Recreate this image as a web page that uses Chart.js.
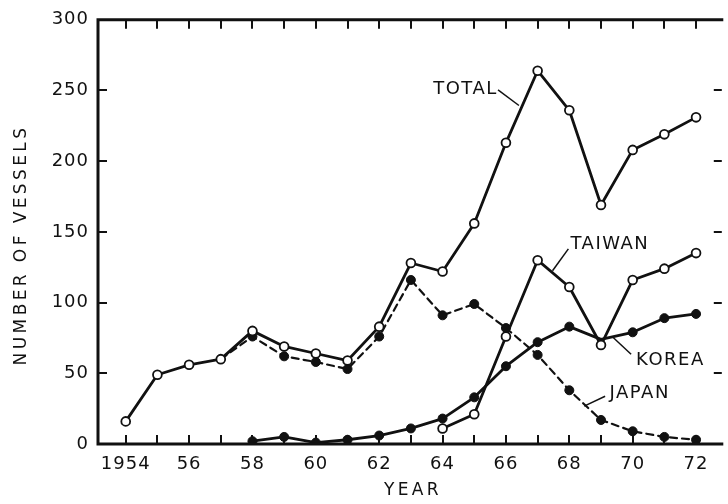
<!DOCTYPE html>
<html>
<head>
<meta charset="utf-8">
<script src="https://cdn.jsdelivr.net/npm/chart.js@4.4.0/dist/chart.umd.min.js"></script>
<style>
  html, body { margin: 0; padding: 0; background: #fff; overflow: hidden; }
  #wrap { width: 728px; height: 504px; position: relative; }
</style>
</head>
<body>
<div id="wrap"><canvas id="chart"></canvas></div>
<script>
// years on the x axis
const years = [1954, 1955, 1956, 1957, 1958, 1959, 1960, 1961, 1962, 1963,
  1964, 1965, 1966, 1967, 1968, 1969, 1970, 1971, 1972];

// number of vessels
const total  = [16, 49, 56, 60, 80, 69, 64, 59, 83, 128, 122, 156, 213, 264, 236, 169, 208, 219, 231];
const japan  = [null, null, null, 60, 76, 62, 58, 53, 76, 116, 91, 99, 82, 63, 38, 17, 9, 5, 3];
const korea  = [null, null, null, null, 2, 5, 1, 3, 6, 11, 18, 33, 55, 72, 83, 74, 79, 89, 92];
const taiwan = [null, null, null, null, null, null, null, null, null, null, 11, 21, 76, 130, 111, 70, 116, 124, 135];

const xTickValues = [1954, 1956, 1958, 1960, 1962, 1964, 1966, 1968, 1970, 1972];
const xTickLabels = ["1954", "56", "58", "60", "62", "64", "66", "68", "70", "72"];
const yTickValues = [0, 50, 100, 150, 200, 250, 300];

// series labels and their leader lines, in data units
const seriesNotes = [
  { text: "TOTAL",  at: [1964.69, 250.7], from: [1965.75, 250.4], to: [1966.41, 239.4] },
  { text: "TAIWAN", at: [1969.25, 141.5], from: [1967.97, 138.0], to: [1967.47, 122.5] },
  { text: "KOREA",  at: [1971.16, 59.2],  from: [1969.95, 63.5],  to: [1969.35, 76.0] },
  { text: "JAPAN",  at: [1970.19, 35.9],  from: [1969.13, 33.8],  to: [1968.47, 26.8] },
];

const ink = "#111";
const FONT = "'DejaVu Sans', sans-serif";

function toPoints(vals) {
  return years.map((y, i) => ({ x: y, y: vals[i] }));
}

// hide the marker on a vertex that is covered in the original
function hideAt(year, r) {
  return (c) => (c.raw && c.raw.x === year ? 0 : r);
}

const framePlugin = {
  id: "frame",
  beforeDraw(chart) {
    chart.ctx.letterSpacing = "1px";
  },
  afterDraw(chart) {
    const ctx = chart.ctx;
    const a = chart.chartArea;
    const xs = chart.scales.x, ys = chart.scales.y;
    ctx.save();
    ctx.strokeStyle = ink;
    ctx.lineCap = "square";
    ctx.lineWidth = 3;
    ctx.beginPath();
    ctx.moveTo(a.left, a.bottom);
    ctx.lineTo(a.left, a.top);
    ctx.lineTo(a.right, a.top);
    ctx.moveTo(a.left, a.bottom);
    ctx.lineTo(a.right, a.bottom);
    ctx.stroke();

    ctx.lineWidth = 2;
    ctx.lineCap = "butt";
    ctx.beginPath();
    years.forEach((yr) => {
      const px = Math.round(xs.getPixelForValue(yr));
      ctx.moveTo(px, a.bottom);
      ctx.lineTo(px, a.bottom - 9);
      ctx.moveTo(px, a.top);
      ctx.lineTo(px, a.top + 9);
    });
    yTickValues.forEach((v) => {
      const py = Math.round(ys.getPixelForValue(v));
      if (v === 0 || v === 300) return;
      ctx.moveTo(a.left, py);
      ctx.lineTo(a.left + 9, py);
      ctx.moveTo(a.right, py);
      ctx.lineTo(a.right - 8, py);
    });
    ctx.stroke();

    // axis titles
    ctx.fillStyle = ink;
    ctx.font = "17px " + FONT;
    ctx.textAlign = "center";
    ctx.textBaseline = "middle";
    ctx.letterSpacing = "3.4px";
    ctx.fillText("YEAR", 413, 491);
    ctx.save();
    ctx.translate(22, 247);
    ctx.rotate(-Math.PI / 2);
    ctx.fillText("NUMBER OF VESSELS", 2, 0);
    ctx.restore();

    // series labels
    ctx.font = "18px " + FONT;
    ctx.letterSpacing = "1.5px";
    ctx.lineWidth = 1.5;
    seriesNotes.forEach((n) => {
      ctx.fillText(n.text, xs.getPixelForValue(n.at[0]) + 1, ys.getPixelForValue(n.at[1]));
      ctx.beginPath();
      ctx.moveTo(xs.getPixelForValue(n.from[0]), ys.getPixelForValue(n.from[1]));
      ctx.lineTo(xs.getPixelForValue(n.to[0]), ys.getPixelForValue(n.to[1]));
      ctx.stroke();
    });
    ctx.restore();
  },
};

const openDot = { pointBackgroundColor: "#fff", pointBorderColor: ink, pointBorderWidth: 1.8, pointRadius: 4.4 };
const fullDot = { pointBackgroundColor: ink, pointBorderColor: ink, pointBorderWidth: 1, pointRadius: 4.5 };

new Chart(document.getElementById("chart"), {
  type: "line",
  data: {
    datasets: [
      Object.assign({ label: "TOTAL", data: toPoints(total), borderColor: ink, borderWidth: 2.8 }, openDot),
      Object.assign({ label: "TAIWAN", data: toPoints(taiwan), borderColor: ink, borderWidth: 2.8 }, openDot),
      Object.assign({ label: "KOREA", data: toPoints(korea), borderColor: ink, borderWidth: 2.8 }, fullDot,
        { pointRadius: hideAt(1969, 4.5) }),
      Object.assign({ label: "JAPAN", data: toPoints(japan), borderColor: ink, borderWidth: 2.2, borderDash: [7, 5] }, fullDot,
        { pointRadius: hideAt(1957, 4.5) }),
    ],
  },
  options: {
    responsive: true,
    maintainAspectRatio: false,
    devicePixelRatio: 1,
    animation: false,
    spanGaps: false,
    layout: { padding: { top: 18, right: 0, left: 0, bottom: 0 } },
    plugins: { legend: { display: false }, tooltip: { enabled: false } },
    elements: { line: { tension: 0, borderCapStyle: "round", borderJoinStyle: "round" } },
    scales: {
      x: {
        type: "linear",
        min: 1953.125,
        max: 1972.8125,
        grid: { display: false, drawTicks: false },
        border: { display: false },
        afterBuildTicks: (s) => { s.ticks = xTickValues.map((v) => ({ value: v })); },
        afterFit: (s) => { s.height = 60; },
        ticks: {
          autoSkip: false,
          maxRotation: 0,
          padding: 10,
          color: ink,
          font: { family: FONT, size: 18 },
          callback: (v) => xTickLabels[xTickValues.indexOf(v)],
        },
      },
      y: {
        min: 0,
        max: 300,
        grid: { display: false, drawTicks: false },
        border: { display: false },
        afterBuildTicks: (s) => { s.ticks = yTickValues.map((v) => ({ value: v })); },
        afterFit: (s) => { s.width = 98; },
        ticks: {
          padding: 9,
          color: ink,
          font: { family: FONT, size: 18 },
        },
      },
    },
  },
  plugins: [framePlugin],
});
</script>
</body>
</html>
